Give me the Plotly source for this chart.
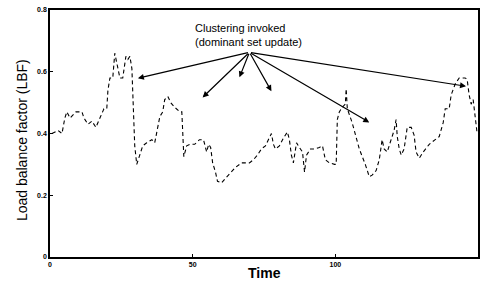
import plotly.graph_objects as go

time = [0.7, 2.8, 4.2, 5.2, 5.9, 7, 9.1, 11.2, 11.9, 13.3, 14.7, 16.1, 17.5, 18.9, 19.9, 20.3, 21, 22, 22.7, 23.4,
        24.5, 25.5, 26.6, 27.3, 28, 28.7, 29, 29.4, 29.7, 30.4, 31.5, 32.5, 33.9, 35.7, 36.7, 37.8, 38.5, 39.5, 40.2,
        41.3, 42.3, 43.7, 45.5, 46.2, 46.5, 46.9, 47.9, 49, 50.7, 52.4, 53.8, 54.9, 55.6, 56.3, 57, 58, 58.7, 60.1,
        61.5, 63.6, 65, 67.1, 69.9, 71.3, 72.7, 74.1, 75.5, 77.6, 78.3, 79, 80.4, 81.8, 83.2, 83.9, 84.6, 85.3, 86.4,
        87.4, 88.5, 89.2, 89.9, 91.3, 93, 94.4, 95.5, 96.5, 97.9, 99.7, 100.3, 100.7, 101.4, 102.4, 103.5, 103.8,
        104.2, 105.9, 108.4, 110.5, 111.9, 112.9, 114.3, 115.4, 116.4, 117.1, 118.2, 119.2, 120.6, 121.3, 121.7,
        122.4, 123.1, 124.1, 125.2, 126.6, 127.6, 128.3, 129.4, 130.8, 132.9, 135, 136.4, 137.8, 138.5, 139.9,
        140.6, 142, 143.4, 145.5, 146.2, 146.9, 147.6, 148.3, 149, 149.7]
lbf = [0.40, 0.41, 0.40, 0.45, 0.47, 0.45, 0.47, 0.47, 0.45, 0.43, 0.44, 0.42, 0.45, 0.48, 0.48, 0.54, 0.58, 0.58,
       0.66, 0.63, 0.58, 0.58, 0.65, 0.64, 0.65, 0.61, 0.51, 0.41, 0.36, 0.30, 0.33, 0.36, 0.37, 0.38, 0.37, 0.42,
       0.455, 0.47, 0.51, 0.52, 0.50, 0.485, 0.47, 0.47, 0.40, 0.325, 0.36, 0.365, 0.365, 0.38, 0.38, 0.34, 0.365,
       0.355, 0.305, 0.275, 0.245, 0.24, 0.255, 0.275, 0.29, 0.305, 0.305, 0.315, 0.33, 0.35, 0.36, 0.40, 0.365,
       0.35, 0.36, 0.385, 0.405, 0.38, 0.33, 0.305, 0.37, 0.355, 0.34, 0.275, 0.33, 0.35, 0.35, 0.355, 0.36, 0.315,
       0.305, 0.30, 0.30, 0.445, 0.47, 0.485, 0.495, 0.545, 0.48, 0.435, 0.35, 0.30, 0.26, 0.265, 0.28, 0.315, 0.38,
       0.35, 0.34, 0.37, 0.41, 0.445, 0.39, 0.35, 0.33, 0.35, 0.42, 0.42, 0.395, 0.34, 0.32, 0.34, 0.365, 0.38,
       0.39, 0.435, 0.48, 0.48, 0.525, 0.56, 0.58, 0.58, 0.575, 0.525, 0.495, 0.51, 0.445, 0.40]

x_ticks = [0, 50, 100, 150]
y_ticks = [0, 0.2, 0.4, 0.6, 0.8]
y_tick_text = ["0", "0.2", "0.4", "0.6", "0.8"]

label_text = "Clustering invoked<br>(dominant set update)"
label_pos = (69.5, 0.718)
apex = (69.9, 0.663)
arrow_x = [30.8, 53.5, 66.4, 77.6, 111.9, 145.8]
arrow_y = [0.579, 0.517, 0.582, 0.537, 0.436, 0.553]

fig = go.Figure()
fig.add_trace(go.Scatter(x=time, y=lbf, mode="lines",
                         line=dict(color="black", width=1.1, dash="4px,3px"),
                         showlegend=False))

annotations = [dict(x=label_pos[0], y=label_pos[1], xref="x", yref="y", text=label_text,
                    showarrow=False, font=dict(family="Arial", size=11, color="black"),
                    align="left", yanchor="middle"),
               dict(x=0.5, y=-0.065, xref="paper", yref="paper", text="<b>Time</b>",
                    showarrow=False, font=dict(family="Arial", size=14, color="black"),
                    xanchor="center", yanchor="middle"),
               dict(x=-0.065, y=0.474, xref="paper", yref="paper", text="Load balance factor (LBF)",
                    showarrow=False, textangle=-90, font=dict(family="Arial", size=14, color="black"),
                    xanchor="center", yanchor="middle")]
for ax_, ay_ in zip(arrow_x, arrow_y):
    annotations.append(dict(x=ax_, y=ay_, ax=apex[0], ay=apex[1], xref="x", yref="y",
                            axref="x", ayref="y", text="", showarrow=True,
                            arrowhead=2, arrowsize=1, arrowwidth=1.2, arrowcolor="black"))

tick_font = dict(size=7, family="Arial", color="black", weight="bold")

fig.update_layout(
    width=481, height=284,
    margin=dict(l=50, r=3, t=10, b=27, autoexpand=False),
    paper_bgcolor="white", plot_bgcolor="white",
    font=dict(family="Arial", color="black"),
    annotations=annotations,
    xaxis=dict(range=[0, 150], tickvals=x_ticks, ticktext=[str(v) for v in x_ticks],
               showgrid=False, zeroline=False, showline=True, mirror=True, automargin=False,
               linecolor="black", linewidth=1.5, ticks="inside", ticklen=3, tickcolor="black",
               tickfont=tick_font),
    yaxis=dict(range=[0, 0.8], tickvals=y_ticks, ticktext=y_tick_text,
               showgrid=False, zeroline=False, showline=True, mirror=True, automargin=False,
               linecolor="black", linewidth=1.5, ticks="inside", ticklen=3, tickcolor="black",
               tickfont=tick_font),
)

fig.write_html("out.html", config={"displayModeBar": False},
               post_script="document.body.style.margin='0';document.body.style.padding='0';document.body.style.overflow='hidden';")
